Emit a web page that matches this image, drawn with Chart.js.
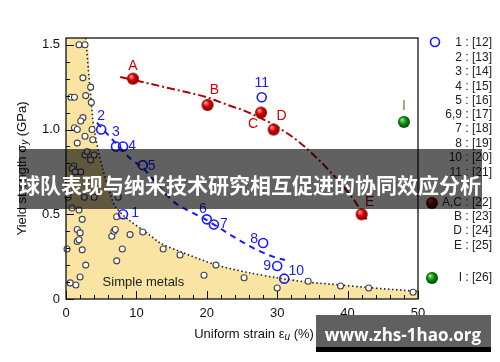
<!DOCTYPE html>
<html>
<head>
<meta charset="utf-8">
<script src="https://cdn.jsdelivr.net/npm/chart.js@4.4.0/dist/chart.umd.min.js"></script>
<style>
  html, body { margin: 0; padding: 0; background: #fff; }
  #wrap { width: 500px; height: 362px; }
</style>
</head>
<body>
<div id="wrap"><canvas id="chart" width="500" height="362"></canvas></div>
<script>
// ---- data ----
// simple metals (grey open circles)
var greyX = [1.85, 2.7, 2.4, 3.5, 0.7, 1.2, 2.8, 3.6, 2.4, 2.1, 1.2, 1.6, 3.7, 2.7, 1.6, 3.8,
             2.7, 3.0, 3.5, 4.0, 1.1, 0.9, 2.1, 1.3, 0.3, 2.6, 4.0, 7.4, 0.85, 1.85, 2.3, 7.2,
             1.6, 2.0, 1.6, 1.85, 0.15, 2.3, 2.8, 2.0, 0.6, 1.4, 6.5, 6.8, 7.0, 9.1, 10.9,
             8.0, 7.2, 13.8, 16.2, 19.6, 21.3, 25.3, 30.0, 34.4, 39.0, 43.0, 49.3];
var greyY = [1.50, 1.50, 1.305, 1.25, 1.19, 1.19, 1.20, 1.16, 1.07, 1.05, 1.01, 1.00, 1.00, 0.96, 0.92, 0.94,
             0.85, 0.87, 0.82, 0.85, 0.785, 0.77, 0.75, 0.75, 0.60, 0.60, 0.60, 0.60, 0.537, 0.525, 0.47, 0.485,
             0.41, 0.39, 0.34, 0.35, 0.295, 0.29, 0.20, 0.13, 0.095, 0.083, 0.37, 0.40, 0.41, 0.38, 0.395,
             0.295, 0.225, 0.295, 0.26, 0.14, 0.20, 0.125, 0.065, 0.105, 0.077, 0.065, 0.04];

// boundary of the simple-metal region (dotted curve)
var edgeX = [2.8, 3.4, 4.0, 5.2, 6.3, 7.0, 8.8, 11.5, 13.4, 16.2, 21.4, 26.0, 30.0, 34.2, 38.9, 43.0, 50.0];
var edgeY = [1.54, 1.25, 1.00, 0.77, 0.62, 0.545, 0.47, 0.39, 0.33, 0.28, 0.20, 0.155, 0.125, 0.10, 0.083, 0.067, 0.045];

// blue open circles 1..11 and their trend
var blueNames = ['1', '2', '3', '4', '5', '6', '7', '8', '9', '10', '11'];
var blueX = [8.1, 5.0, 7.1, 8.1, 10.9, 20.0, 21.0, 28.0, 30.0, 31.0, 27.8];
var blueY = [0.50, 1.00, 0.90, 0.90, 0.79, 0.47, 0.44, 0.33, 0.195, 0.12, 1.19];
var blueLineX = [4.4, 7.5, 9.1, 11.0, 13.5, 15.5, 17.9, 20.0, 22.9, 24.7, 27.1, 29.4, 31.1];
var blueLineY = [1.04, 0.90, 0.83, 0.77, 0.65, 0.567, 0.51, 0.465, 0.39, 0.345, 0.29, 0.25, 0.23];

// red spheres A..E and their trend
var redNames = ['A', 'B', 'C', 'D', 'E'];
var redX = [9.5, 20.1, 27.7, 29.5, 42.0];
var redY = [1.30, 1.145, 1.10, 1.00, 0.50];
var redLineX = [7.7, 14.0, 20.0, 23.3, 25.1, 27.5, 29.4, 33.0, 37.1, 40.8, 42.7];
var redLineY = [1.31, 1.25, 1.19, 1.14, 1.115, 1.07, 1.03, 0.93, 0.77, 0.59, 0.47];

// green sphere I
var greenNames = ['I'];
var greenX = [48.0];
var greenY = [1.045];

// legend
var legendKeys = ['1', '2', '3', '4', '5', '6,9', '7', '8', '10', '11', 'A,C', 'B', 'D', 'E', 'I'];
var legendRefs = [12, 13, 14, 15, 16, 17, 18, 19, 20, 21, 22, 23, 24, 25, 26];

var xTicks = [0, 10, 20, 30, 40, 50];
var yTicks = [0, 0.5, 1.0, 1.5];

function pts(xs, ys) {
  return xs.map(function (x, i) { return { x: x, y: ys[i] }; });
}

// shaded sphere used as point style
function makeBall(r, light, mid, dark) {
  var c = document.createElement('canvas');
  c.width = c.height = r * 2 + 2;
  var g = c.getContext('2d');
  var cx = r + 1, cy = r + 1;
  var grad = g.createRadialGradient(cx - r * 0.35, cy - r * 0.4, r * 0.1, cx, cy, r);
  grad.addColorStop(0, light);
  grad.addColorStop(0.45, mid);
  grad.addColorStop(1, dark);
  g.fillStyle = grad;
  g.beginPath();
  g.arc(cx, cy, r, 0, Math.PI * 2);
  g.fill();
  return c;
}
var redBall = makeBall(6, '#ff9a9a', '#dd0000', '#7a0000');
var redBallDark = makeBall(6, '#c05050', '#8a0000', '#3a0000');
var greenBall = makeBall(6, '#8ee08e', '#119911', '#004400');

var FONT = '"Liberation Sans", Arial, Helvetica, sans-serif';

// text next to points: dataset index, offset, colour
var labelStyle = {
  blue: { ds: 5, color: '#1a1aff', off: [[12, -1], [0, -13], [0, -14], [9, 0], [9, 1], [-4, -10], [10, 0], [-9, -4], [-10, 0], [12, -8], [0, -14]] },
  red: { ds: 6, color: '#d40000', off: [[0, -13], [7, -15], [-8, 12], [8, -13], [8, -12]] },
  green: { ds: 7, color: '#6b8e23', off: [[0, -16]] }
};

var decor = {
  id: 'decor',
  afterDatasetsDraw: function (chart) {
    var ctx = chart.ctx, a = chart.chartArea;
    var xs = chart.scales.x, ys = chart.scales.y;
    ctx.save();
    // frame
    ctx.strokeStyle = '#111';
    ctx.lineWidth = 1.3;
    ctx.strokeRect(a.left, a.top, a.right - a.left, a.bottom - a.top);
    // inward ticks
    ctx.lineWidth = 1;
    ctx.beginPath();
    for (var v = 0; v <= 50.001; v += 2) {
      var px = Math.round(xs.getPixelForValue(v)) + 0.5;
      var len = (Math.abs(v % 10) < 1e-6) ? 8 : 4;
      ctx.moveTo(px, a.bottom);
      ctx.lineTo(px, a.bottom - len);
    }
    for (var k = 0; k <= 15; k++) {
      var py = Math.round(ys.getPixelForValue(k / 10)) + 0.5;
      var l2 = (k % 5 === 0) ? 8 : 4;
      ctx.moveTo(a.left, py);
      ctx.lineTo(a.left + l2, py);
    }
    ctx.stroke();

    // point labels
    ctx.font = '14px ' + FONT;
    ctx.textAlign = 'center';
    ctx.textBaseline = 'middle';
    [['blue', blueNames], ['red', redNames], ['green', greenNames]].forEach(function (p) {
      var st = labelStyle[p[0]];
      var meta = chart.getDatasetMeta(st.ds);
      p[1].forEach(function (name, i) {
        var el = meta.data[i];
        ctx.fillStyle = (name === 'E') ? '#8b1010' : st.color;
        ctx.fillText(name, el.x + st.off[i][0], el.y + st.off[i][1]);
      });
    });

    ctx.fillStyle = '#222';
    ctx.font = '13px ' + FONT;
    ctx.fillText('Simple metals', xs.getPixelForValue(11.0), ys.getPixelForValue(0.1));

    // axis titles with subscripts
    function titled(parts, cx, cy) {
      var w = 0;
      parts.forEach(function (pt) { ctx.font = pt[1]; w += ctx.measureText(pt[0]).width; });
      var x = cx - w / 2;
      ctx.textAlign = 'left';
      parts.forEach(function (pt) {
        ctx.font = pt[1];
        ctx.fillText(pt[0], x, cy + pt[2]);
        x += ctx.measureText(pt[0]).width;
      });
    }
    ctx.fillStyle = '#111';
    ctx.textBaseline = 'middle';
    titled([['Uniform strain \u03b5', '13px ' + FONT, 0], ['u', 'italic 10px ' + FONT, 3], [' (%)', '13px ' + FONT, 0]],
      (a.left + a.right) / 2 + 12, 334);
    ctx.save();
    ctx.translate(22, (a.top + a.bottom) / 2);
    ctx.rotate(-Math.PI / 2);
    titled([['Yield strength \u03c3', '13px ' + FONT, 0], ['y', 'italic 10px ' + FONT, 3], [' (GPa)', '13px ' + FONT, 0]], 0, 0);
    ctx.restore();

    // legend on the right
    ctx.font = '12px ' + FONT;
    ctx.textAlign = 'right';
    ctx.fillStyle = '#222';
    var rowY = [43, 58, 72, 87, 101, 115, 129, 144, 158, 173, 203, 217, 231, 246, 278];
    legendKeys.forEach(function (key, i) {
      ctx.fillText(key + ' : [' + legendRefs[i] + ']', 492, rowY[i]);
    });
    ctx.strokeStyle = '#1a1aff';
    ctx.lineWidth = 1.6;
    ctx.beginPath();
    ctx.arc(435, 42, 4.5, 0, Math.PI * 2);
    ctx.stroke();
    ctx.drawImage(redBallDark, 432 - redBallDark.width / 2, 203 - redBallDark.height / 2);
    ctx.drawImage(greenBall, 432 - greenBall.width / 2, 278 - greenBall.height / 2);
    ctx.restore();
  },
  afterDraw: function (chart) {
    var ctx = chart.ctx;
    ctx.save();
    // overlaid banner
    ctx.fillStyle = 'rgba(0,0,0,0.62)';
    ctx.fillRect(19, 149, 463, 60);
    ctx.fillStyle = '#fff';
    ctx.font = 'bold 21px "Noto Sans CJK SC", sans-serif';
    ctx.textAlign = 'center';
    ctx.textBaseline = 'middle';
    ctx.fillText('球队表现与纳米技术研究相互促进的协同效应分析', 250, 185);
    // watermark
    ctx.fillStyle = '#606060';
    ctx.fillRect(316, 315, 175, 32);
    ctx.fillStyle = '#000';
    ctx.fillRect(316, 347, 175, 5);
    ctx.fillStyle = '#fff';
    ctx.font = 'bold 17px "Open Sans", "DejaVu Sans", sans-serif';
    ctx.fillText('www.zhs-1hao.org', 403, 336);
    ctx.restore();
  }
};

var edgeFill = [{ x: 0, y: 1.54 }].concat(pts(edgeX, edgeY));

function fixedTicks(list) {
  return function (scale) {
    scale.ticks = list.map(function (v) { return { value: v }; });
  };
}

new Chart(document.getElementById('chart'), {
  type: 'scatter',
  data: {
    datasets: [
      { // 0 tan area
        type: 'line', data: edgeFill, fill: 'origin', backgroundColor: '#f9e4a4',
        borderWidth: 0, pointRadius: 0, tension: 0.3, order: 20
      },
      { // 1 dotted boundary
        type: 'line', data: pts(edgeX, edgeY), fill: false, borderColor: '#222',
        borderWidth: 1.6, borderDash: [1.5, 2.5], pointRadius: 0, tension: 0.3, order: 18
      },
      { // 2 grey circles
        data: pts(greyX, greyY), pointRadius: 3, pointBorderWidth: 1.1,
        pointBackgroundColor: '#fff', pointBorderColor: '#444', clip: false, order: 16
      },
      { // 3 blue dashed trend
        type: 'line', data: pts(blueLineX, blueLineY), fill: false, borderColor: '#1a1aff',
        borderWidth: 2, borderDash: [6, 5], pointRadius: 0, cubicInterpolationMode: 'monotone', order: 14
      },
      { // 4 red dash-dot trend
        type: 'line', data: pts(redLineX, redLineY), fill: false, borderColor: '#b00000',
        borderWidth: 2, borderDash: [8, 3, 2, 3], pointRadius: 0, cubicInterpolationMode: 'monotone', order: 12
      },
      { // 5 blue circles
        data: pts(blueX, blueY), pointRadius: 4.5, pointBorderWidth: 1.6,
        pointBackgroundColor: 'rgba(255,255,255,0)', pointBorderColor: '#1a1aff', clip: false, order: 5
      },
      { // 6 red spheres
        data: pts(redX, redY), pointStyle: redBall, clip: false, order: 3
      },
      { // 7 green sphere
        data: pts(greenX, greenY), pointStyle: greenBall, clip: false, order: 1
      }
    ]
  },
  options: {
    responsive: false,
    animation: false,
    devicePixelRatio: 1,
    layout: { padding: { left: 0, top: 38, right: 82, bottom: 0 } },
    plugins: { legend: { display: false }, tooltip: { enabled: false } },
    scales: {
      x: {
        type: 'linear', min: 0, max: 50,
        grid: { display: false, drawTicks: false },
        border: { display: false },
        afterBuildTicks: fixedTicks(xTicks),
        ticks: {
          padding: 7, color: '#111', font: { family: FONT, size: 13 },
          callback: function (v) { return String(v); }
        },
        afterFit: function (s) { s.height = 63; }
      },
      y: {
        type: 'linear', min: 0, max: 1.54,
        grid: { display: false, drawTicks: false },
        border: { display: false },
        afterBuildTicks: fixedTicks(yTicks),
        ticks: {
          padding: 6, color: '#111', font: { family: FONT, size: 13 },
          callback: function (v) { return v === 0 ? '0' : v.toFixed(1); }
        },
        afterFit: function (s) { s.width = 66; }
      }
    }
  },
  plugins: [decor]
});
</script>
</body>
</html>
